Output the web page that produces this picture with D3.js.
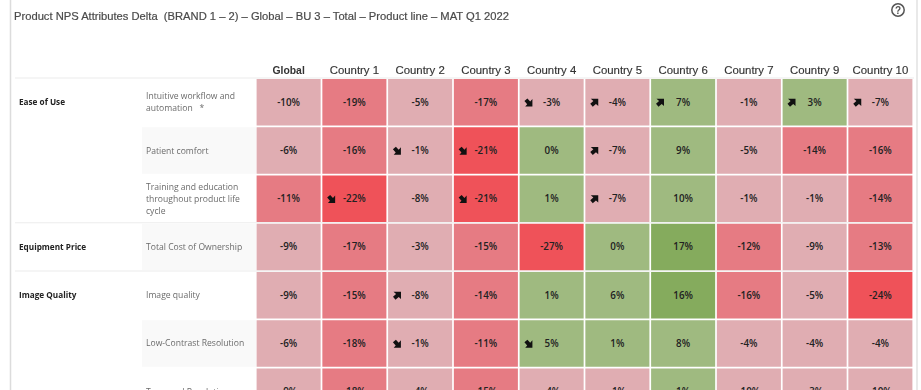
<!DOCTYPE html>
<html lang="en">
<head>
  <meta charset="UTF-8" />
  <title>Product NPS Attributes Delta</title>
  <script src="https://cdn.jsdelivr.net/npm/d3@7/dist/d3.min.js"></script>
  <style>
    html, body { margin: 0; padding: 0; background: #fff; overflow: hidden; }
    /* the source is a soft screenshot */
    svg { display: block; filter: blur(0.4px); }
  </style>
</head>
<body>
  <div id="chart"></div>
  <script>
    const titleText = "Product NPS Attributes Delta  (BRAND 1 \u2013 2) \u2013 Global \u2013 BU 3 \u2013 Total \u2013 Product line \u2013 MAT Q1 2022";
    const countries = ["Global", "Country 1", "Country 2", "Country 3", "Country 4", "Country 5", "Country 6", "Country 7", "Country 9", "Country 10"];
    const attributes = [
      ["Intuitive workflow and", "automation   *"],
      ["Patient comfort"],
      ["Training and education", "throughout product life", "cycle"],
      ["Total Cost of Ownership"],
      ["Image quality"],
      ["Low-Contrast Resolution"],
      ["Temporal Resolution"]
    ];
    // group label and the row it sits on
    const groups = [
      { name: "Ease of Use", row: 0 },
      { name: "Equipment Price", row: 3 },
      { name: "Image Quality", row: 4 }
    ];
    const values = [
      [-10, -19, -5, -17, -3, -4, 7, -1, 3, -7],
      [-6, -16, -1, -21, 0, -7, 9, -5, -14, -16],
      [-11, -22, -8, -21, 1, -7, 10, -1, -1, -14],
      [-9, -17, -3, -15, -27, 0, 17, -12, -9, -13],
      [-9, -15, -8, -14, 1, 6, 16, -16, -5, -24],
      [-6, -18, -1, -11, 5, 1, 8, -4, -4, -4],
      [-9, -18, -4, -15, -4, -1, 1, -10, -3, -10]
    ];
    // 1 = arrow up, -1 = arrow down, 0 = none
    const arrows = [
      [0, 0, 0, 0, -1, 1, 1, 0, 1, 1],
      [0, 0, -1, -1, 0, 1, 0, 0, 0, 0],
      [0, -1, 0, -1, 0, 1, 0, 0, 0, 0],
      [0, 0, 0, 0, 0, 0, 0, 0, 0, 0],
      [0, 0, 1, 0, 0, 0, 0, 0, 0, 0],
      [0, 0, -1, 0, -1, 0, 0, 0, 0, 0],
      [0, 0, 0, 0, 0, 0, 0, 0, 0, 0]
    ];
    const colorBreaks = [-20, -10, 0, 15];
    const colorSteps = ["#ef5259", "#e67b83", "#e0adb2", "#9fba80", "#85ab5d"];

    const width = 921, height = 390;
    const sans = "'Liberation Sans', Arial, sans-serif";
    const body = "'Open Sans', 'Noto Sans', sans-serif";

    const svg = d3.select("#chart").append("svg")
      .attr("width", width)
      .attr("height", height);

    const x = d3.scaleBand().domain(d3.range(countries.length)).range([256.6, 912.4]).paddingInner(0.026);
    const y = d3.scaleBand().domain(d3.range(attributes.length)).range([79, 415]).paddingInner(0.036);
    const color = d3.scaleThreshold().domain(colorBreaks).range(colorSteps);

    // card border
    svg.append("line").attr("x1", 10.5).attr("x2", 10.5).attr("y1", 0).attr("y2", height).attr("stroke", "#dcdcdc").attr("stroke-width", 1.5);
    svg.append("line").attr("x1", 917).attr("x2", 917).attr("y1", 0).attr("y2", height).attr("stroke", "#e2e2e2").attr("stroke-width", 1.5);

    svg.append("text")
      .attr("x", 14).attr("y", 20)
      .attr("font-family", sans).attr("font-size", 11.2).attr("fill", "#4a4a4a")
      .attr("stroke", "#4a4a4a").attr("stroke-width", 0.2)
      .style("white-space", "pre")
      .text(titleText);

    // help icon
    const help = svg.append("g").attr("transform", "translate(898,10)");
    help.append("circle").attr("r", 6.2).attr("fill", "none").attr("stroke", "#555").attr("stroke-width", 1.5);
    help.append("text").attr("y", 3.5).attr("text-anchor", "middle")
      .attr("font-family", sans).attr("font-size", 10).attr("font-weight", "bold").attr("fill", "#555").text("?");

    // striped background on every second attribute
    svg.selectAll("rect.stripe")
      .data(d3.range(attributes.length).filter(i => i % 2 === 1))
      .join("rect").attr("class", "stripe")
      .attr("x", 142).attr("width", 114)
      .attr("y", i => y(i)).attr("height", y.bandwidth())
      .attr("fill", "#f9f9f9");

    // rules under header and between groups
    const ruleRows = groups.map(g => g.row);
    svg.selectAll("line.rule")
      .data(ruleRows)
      .join("line").attr("class", "rule")
      .attr("x1", 15).attr("x2", 914)
      .attr("y1", r => y(r) - 1).attr("y2", r => y(r) - 1)
      .attr("stroke", "#ececec").attr("stroke-width", 1.2);

    // column headers
    svg.selectAll("text.head")
      .data(countries)
      .join("text").attr("class", "head")
      .attr("x", (d, i) => x(i) + x.bandwidth() / 2)
      .attr("y", 74)
      .attr("text-anchor", "middle")
      .attr("font-family", sans).attr("font-size", (d, i) => i === 0 ? 10.4 : 11.4)
      .attr("font-weight", (d, i) => i === 0 ? "bold" : "normal")
      .attr("fill", "#333")
      .attr("stroke", "#333").attr("stroke-width", (d, i) => i === 0 ? 0 : 0.15)
      .text(d => d);

    // group labels
    svg.selectAll("text.group")
      .data(groups)
      .join("text").attr("class", "group")
      .attr("x", 19)
      .attr("y", d => y(d.row) + y.bandwidth() / 2 + 3)
      .attr("font-family", body).attr("font-size", 8.2).attr("font-weight", "bold")
      .attr("fill", "#222")
      .text(d => d.name);

    // attribute labels
    const lineGap = 12;
    svg.selectAll("text.attr")
      .data(attributes)
      .join("text").attr("class", "attr")
      .attr("font-family", body).attr("font-size", 8.6).attr("fill", "#6b6b6b")
      .each(function (lines, i) {
        const mid = y(i) + y.bandwidth() / 2 + 3;
        d3.select(this).selectAll("tspan")
          .data(lines)
          .join("tspan")
          .attr("x", 146)
          .attr("y", (d, k) => mid + (k - (lines.length - 1) / 2) * lineGap)
          .style("white-space", "pre")
          .text(d => d);
      });

    // cells
    const cells = values.flatMap((row, r) => row.map((v, c) => ({ r, c, v, arrow: arrows[r][c] })));
    const cell = svg.selectAll("g.cell")
      .data(cells)
      .join("g").attr("class", "cell")
      .attr("transform", d => `translate(${x(d.c)},${y(d.r)})`);

    cell.append("rect")
      .attr("width", x.bandwidth())
      .attr("height", y.bandwidth())
      .attr("fill", d => color(d.v));

    cell.append("text")
      .attr("x", x.bandwidth() / 2)
      .attr("y", y.bandwidth() / 2 + 3.5)
      .attr("text-anchor", "middle")
      .attr("font-family", body).attr("font-size", 9.8).attr("font-weight", 600)
      .attr("fill", "#222")
      .text(d => d.v + "%");

    // trend arrows, drawn pointing up-right then flipped for the down ones
    cell.filter(d => d.arrow !== 0).append("path")
      .attr("d", "M-3.6,-3.8 L3.9,-3.8 L3.9,3.4 L1.6,1.4 L-1.6,4.2 L-4.1,1.2 L-1,-1.6 Z")
      .attr("fill", "#111")
      .attr("transform", d => `translate(9,${y.bandwidth() / 2 + 0.3}) rotate(${d.arrow > 0 ? 0 : 90})`);
  </script>
</body>
</html>
